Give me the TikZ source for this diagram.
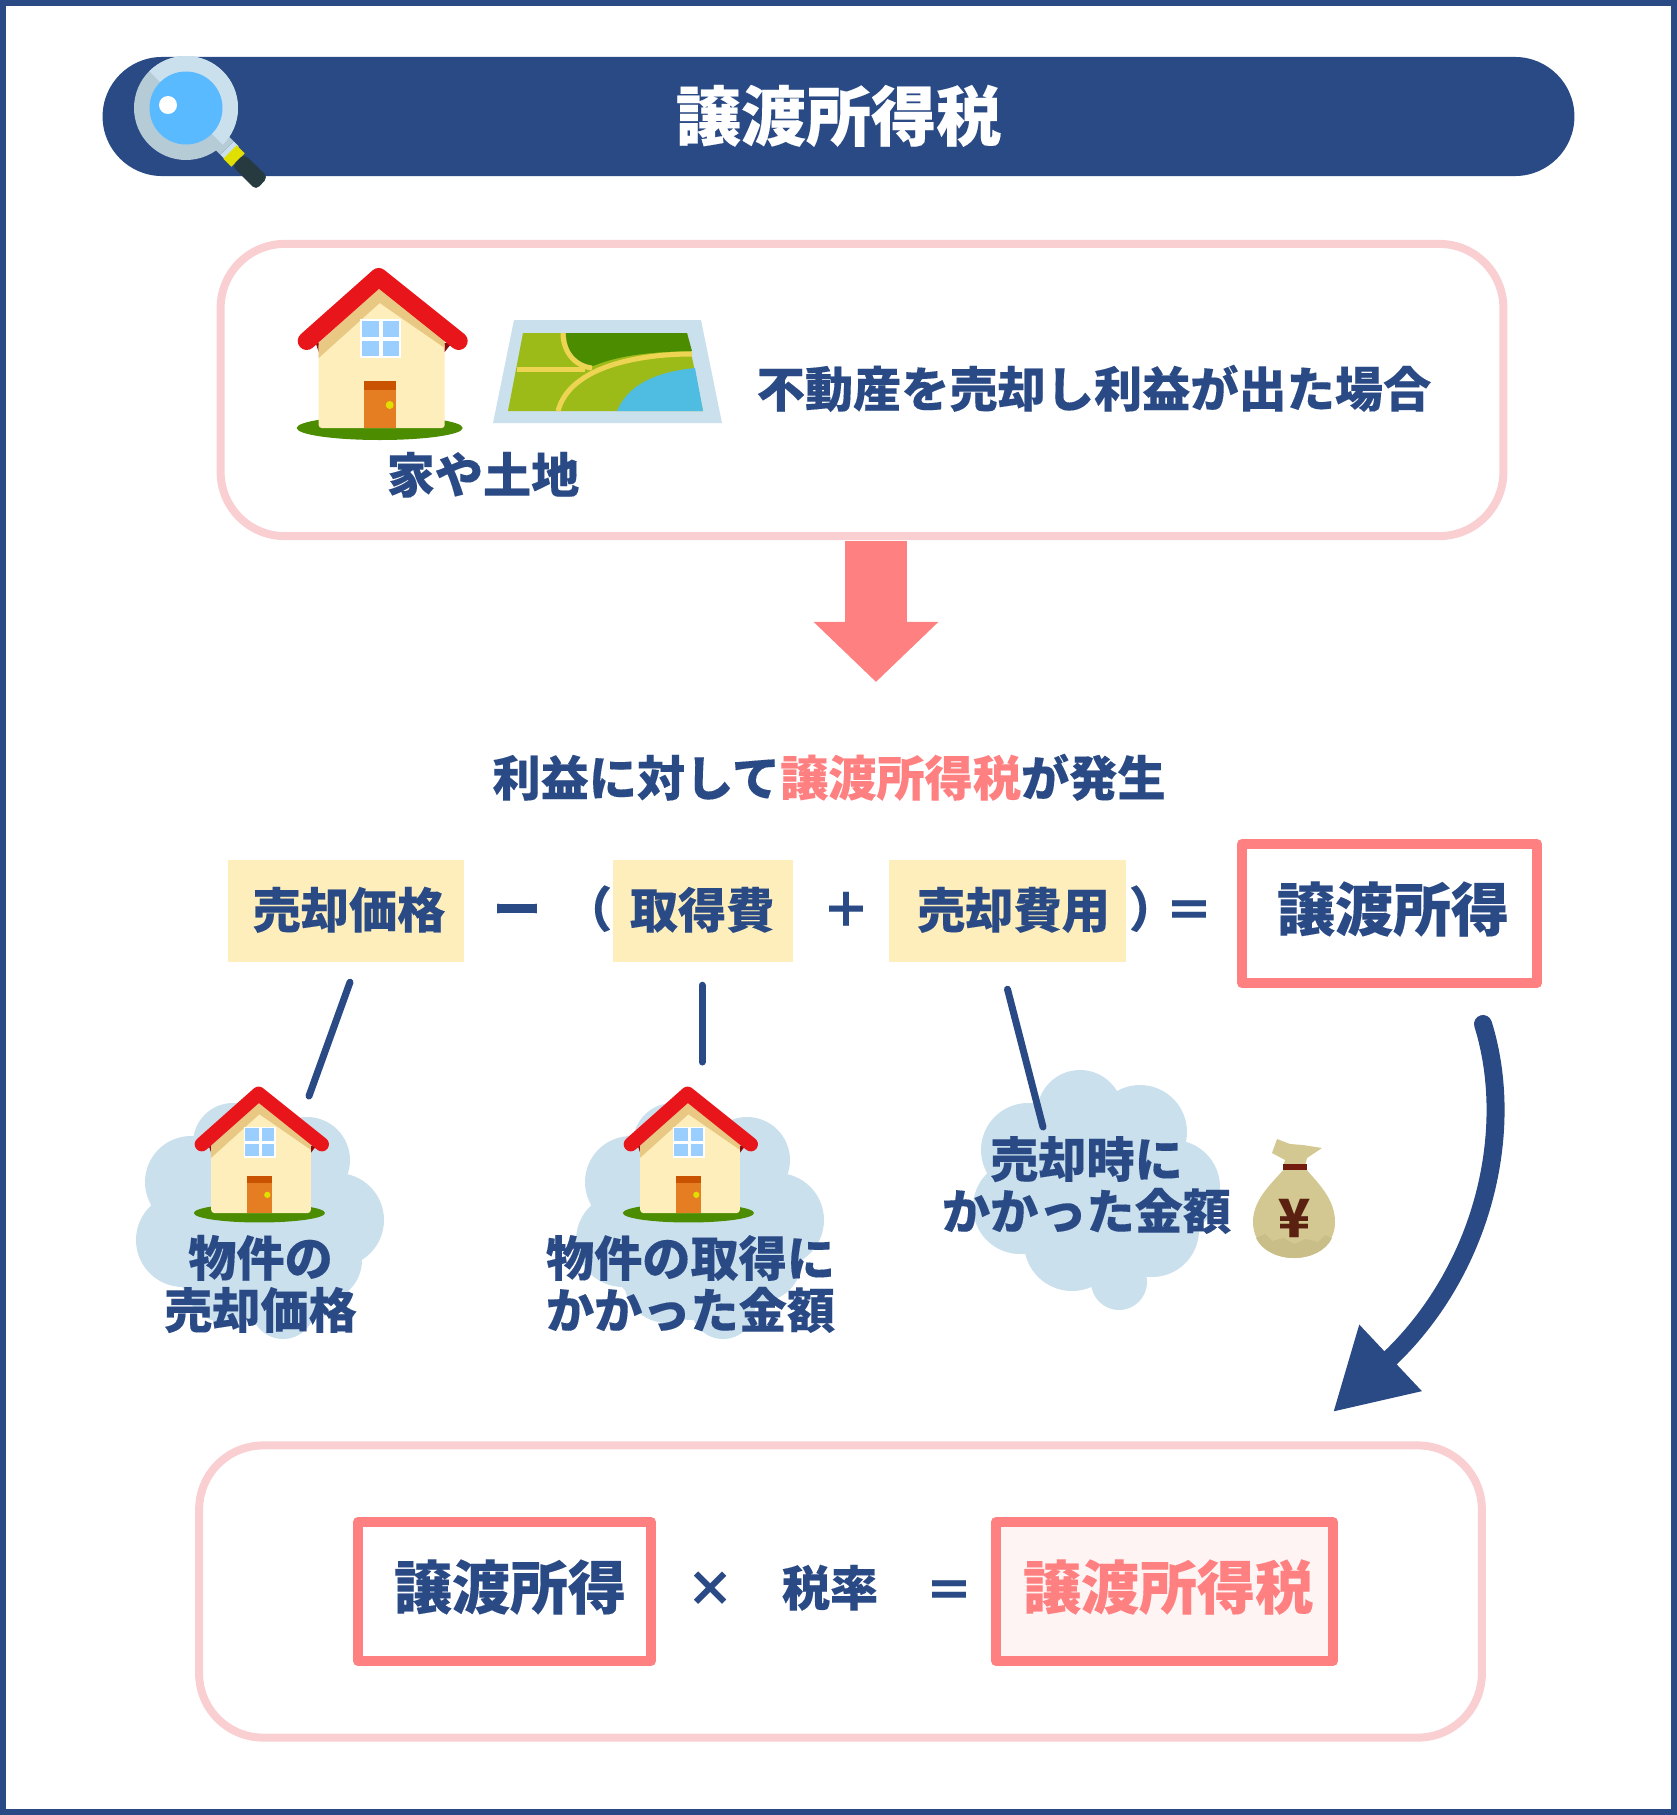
\documentclass[tikz,border=0pt]{standalone}
\usepackage{fontspec}
\setmainfont{Noto Sans CJK JP}[BoldFeatures={FakeBold=0.2}]
\usetikzlibrary{arrows.meta}
\usetikzlibrary{calc}
\definecolor{DarkNavy}{HTML}{2A4A85}
\definecolor{SoftPink}{HTML}{FF8080}
\definecolor{PalePink}{HTML}{F9CFD2}
\definecolor{PaleRose}{HTML}{FFF4F4}
\definecolor{Cream}{HTML}{FDEEBB}
\definecolor{CloudBlue}{HTML}{CBE0ED}
\definecolor{RingGray}{HTML}{B5CBD6}
\definecolor{LensBlue}{HTML}{5ABAFF}
\definecolor{RoofRed}{HTML}{E8161A}
\definecolor{RoofBand}{HTML}{E8C882}
\definecolor{Grass}{HTML}{4C8C00}
\definecolor{FieldGreen}{HTML}{9DBB18}
\definecolor{RoadYellow}{HTML}{EDD553}
\definecolor{WaterBlue}{HTML}{4FBCE2}
\definecolor{BagTan}{HTML}{D3C892}
\definecolor{BagShade}{HTML}{C9BE88}
\definecolor{BagBrown}{HTML}{5A2010}
\definecolor{GripDark}{HTML}{263A3F}
\definecolor{DoorOrange}{HTML}{E57E22}
\definecolor{DoorTop}{HTML}{C95300}
\definecolor{KnobYellow}{HTML}{E0DF00}
\definecolor{PaneBlue}{HTML}{99CEFF}
\tikzset{
  notetext/.style={text=DarkNavy,inner sep=0pt,align=center,font=\bfseries\fontsize{13.7}{14.8}\selectfont},
  midtext/.style={notetext,text height=0.42cm,text depth=0.06cm},
  bigtext/.style={text=DarkNavy,inner sep=0pt,text height=0.5cm,text depth=0.15cm,font=\bfseries\fontsize{16.5}{18}\selectfont},
  panel/.style={draw=PalePink,line width=0.08cm,rounded corners=0.64cm,minimum width=12.82cm,minimum height=2.92cm},
  creambox/.style={fill=Cream,midtext,text depth=0.08cm,minimum height=1.01cm},
  redbox/.style={draw=SoftPink,line width=0.1cm,line join=round,bigtext,minimum height=1.39cm},
  pointer/.style={DarkNavy,line width=0.07cm,line cap=round}
}
\newcommand{\drawhouse}[3]{
  \begin{scope}[shift={(#1,#2)},scale=#3]
    \fill[Grass] (-2,0) ellipse (83 and 12);
    \fill[RoofRed!60!black] (-66,-85) -- (70,-85) -- (63,-76) -- (-63,-76) -- cycle;
    \fill[Cream,rounded corners=0.03cm] (-63,0) -- (-63,-85) -- (-2,-135) -- (63,-85) -- (63,0) -- cycle;
    \fill[RoofBand] (-63,-70) -- (-63,-85) -- (-3,-140) -- (63,-88) -- (63,-80) -- (-2,-125) -- cycle;
    \draw[RoofRed,line width=#3*0.18cm,line cap=round,line join=round] (-75,-87) -- (-3,-151) -- (77,-87);
    \fill[white] (-22,-109) rectangle (19,-70);
    \fill[PaneBlue] (-20,-107) rectangle (-3,-91);
    \fill[PaneBlue] (1,-107) rectangle (17,-91);
    \fill[PaneBlue] (-20,-87) rectangle (-3,-72);
    \fill[PaneBlue] (1,-87) rectangle (17,-72);
    \fill[DoorOrange] (-18,-47) rectangle (14,0);
    \fill[DoorTop] (-18,-47) rectangle (14,-38);
    \fill[KnobYellow] (8,-23) circle (4);
  \end{scope}
}
\begin{document}
\begin{tikzpicture}[x=0.01cm,y=-0.01cm]
  \useasboundingbox (0,0) rectangle (1677,1815);
  \draw[DarkNavy,line width=0.06cm] (3,3) rectangle (1674,1812);
  % title
  \node[fill=DarkNavy,text=white,inner sep=0pt,rounded corners=0.595cm,minimum width=14.71cm,minimum height=1.19cm,text height=0.56cm,text depth=0.08cm,font=\bfseries\fontsize{18.5}{20}\selectfont] (title) at (838.5,116.5) {譲渡所得税};
  % magnifier
  \draw[CloudBlue,line width=0.19cm] (227,148) -- (232,153);
  \draw[RingGray,line width=0.19cm] (218,139) -- (227,148);
  \draw[KnobYellow,line width=0.19cm] (230,152) -- (238,160);
  \fill[GripDark,rounded corners=0.05cm] (244,154) -- (268,177) -- (256,190) -- (232,166) -- cycle;
  \fill[RingGray] (186,108) circle (52);
  \begin{scope}
    \clip (186,108) circle (52);
    \fill[CloudBlue] (126,48) -- (246,168) -- (246,48) -- cycle;
  \end{scope}
  \fill[LensBlue] (186,108) circle (36.5);
  \fill[white] (168,105) circle (9);
  % top panel
  \node[panel] (sale panel) at (862,390) {};
  \drawhouse{381.7}{428}{1}
  \fill[CloudBlue] (514,320) -- (701,320) -- (722,423) -- (493,423) -- cycle;
  \fill[FieldGreen] (523,333) -- (687,333) -- (703,411) -- (508,411) -- cycle;
  \fill[Grass] (566,333) .. controls (566,352) and (578,368) .. (593,366) .. controls (620,355) and (650,352) .. (692,351) -- (687,333) -- cycle;
  \fill[WaterBlue] (617,411) .. controls (628,385) and (655,372) .. (695,368) -- (703,411) -- cycle;
  \draw[RoadYellow,line width=0.05cm] (563,333) .. controls (563,352) and (575,366) .. (592,368);
  \draw[RoadYellow,line width=0.05cm] (517,369) -- (585,369);
  \draw[RoadYellow,line width=0.05cm] (692,354) .. controls (640,354) and (570,366) .. (558,411);
  \node[midtext] (land) at (483,475) {家や土地};
  \node[midtext] (case) at (1094,389) {不動産を売却し利益が出た場合};
  % block arrow
  \coordinate (drop top) at (876,541);
  \coordinate (drop tip) at (876,682);
  \draw[SoftPink,line width=0.61cm,-{Triangle[length=0.6cm,width=1.21cm]}] (drop top) -- (drop tip);
  \node[midtext] (result) at (829,778) {利益に対して\textcolor{SoftPink}{譲渡所得税}が発生};
  % formula
  \node[creambox,minimum width=2.36cm] (sale price) at (346,911) {\kern1.7pt 売却価格};
  \node[midtext] (minus) at (517,909) {ー};
  \node[midtext] (open) at (588,909) {（};
  \node[creambox,minimum width=1.8cm] (cost) at (703,911) {\kern-0.5pt 取得費};
  \node[midtext] (plus) at (846,909) {＋};
  \node[creambox,minimum width=2.37cm] (fees) at (1007.5,911) {\kern3.4pt 売却費用};
  \node[midtext] (close) at (1153,909) {）};
  \node[midtext] (equal) at (1189,910) {＝};
  \node[redbox,minimum width=2.95cm] (gain) at (1389.5,913.5) {\kern2pt 譲渡所得};
  % notes
  \coordinate (a top) at ($(sale price.south)+(4,20)$);
  \coordinate (a end) at (309,1096);
  \coordinate (b top) at ($(cost.south)+(-1,23)$);
  \coordinate (b end) at (702,1062);
  \coordinate (c top) at ($(fees.south)+(0,27)$);
  \coordinate (c end) at (1043,1127);
  \fill[CloudBlue] (191,1182) circle (46) (233,1143) circle (40) (307,1160) circle (43) (337,1220) circle (47) (183,1240) circle (47) (283,1307) circle (32) (320,1260) circle (42) (227,1280) circle (43) (253,1227) circle (93);
  \fill[CloudBlue] (631,1182) circle (46) (673,1143) circle (40) (747,1160) circle (43) (777,1220) circle (47) (623,1240) circle (47) (723,1307) circle (32) (760,1260) circle (42) (667,1280) circle (43) (693,1227) circle (93);
  \fill[CloudBlue] (1028,1150) circle (47) (1080,1113) circle (43) (1140,1132) circle (47) (1173,1187) circle (47) (1020,1207) circle (47) (1072,1243) circle (48) (1152,1230) circle (47) (1119,1282) circle (28) (1097,1183) circle (90);
  \draw[pointer] (a top) -- (a end);
  \draw[pointer] (b top) -- (b end);
  \draw[pointer] (c top) -- (c end);
  \drawhouse{261}{1213}{0.79}
  \drawhouse{690}{1213}{0.79}
  \node[notetext] (note a) at (260.5,1284) {物件の\\売却価格};
  \node[notetext] (note b) at (690.5,1284) {物件の取得に\\かかった金額};
  \node[notetext] (note c) at (1086.5,1185) {売却時に\\かかった金額};
  % money bag
  \fill[BagTan] (1277,1139) -- (1290,1144) -- (1303,1145) -- (1322,1148) -- (1307,1158) -- (1305,1166) -- (1283,1166) -- (1285,1160) -- (1272,1153) -- cycle;
  \fill[BagTan] (1285,1168) .. controls (1270,1185) and (1253,1200) .. (1253,1222) .. controls (1253,1245) and (1272,1258) .. (1294,1258) .. controls (1316,1258) and (1335,1245) .. (1335,1222) .. controls (1335,1200) and (1320,1185) .. (1305,1168) -- cycle;
  \fill[BagShade] (1256,1238) -- (1265,1234) -- (1272,1241) -- (1284,1238) -- (1294,1244) -- (1306,1239) -- (1318,1242) -- (1325,1235) -- (1332,1238) .. controls (1326,1251) and (1310,1258) .. (1294,1258) .. controls (1278,1258) and (1262,1251) .. (1256,1238) -- cycle;
  \fill[BagBrown!85!red] (1283,1164) rectangle (1307,1170);
  \node[text=BagBrown,inner sep=0pt,font=\bfseries\fontsize{15}{15}\selectfont] (yen) at (1294,1218) {¥};
  % curved arrow
  \coordinate (flow start) at (1483,1024);
  \coordinate (flow tip) at (1333,1412);
  \draw[DarkNavy,line width=0.18cm,line cap=round,-{Triangle[length=0.79cm,width=0.86cm]}] (flow start) .. controls (1516,1130) and (1484,1270) .. (flow tip);
  % bottom panel
  \node[panel] (tax panel) at (840.5,1591.5) {};
  \node[redbox,minimum width=2.93cm] (base) at (504.5,1591.5) {\kern3.1pt 譲渡所得};
  \node[midtext] (times) at (710,1588) {×};
  \node[midtext] (rate) at (830,1588) {税率};
  \node[midtext] (equal two) at (949,1590) {＝};
  \node[redbox,fill=PaleRose,text=SoftPink,minimum width=3.37cm] (tax) at (1164.5,1591.5) {\kern2pt 譲渡所得税};
\end{tikzpicture}
\end{document}
